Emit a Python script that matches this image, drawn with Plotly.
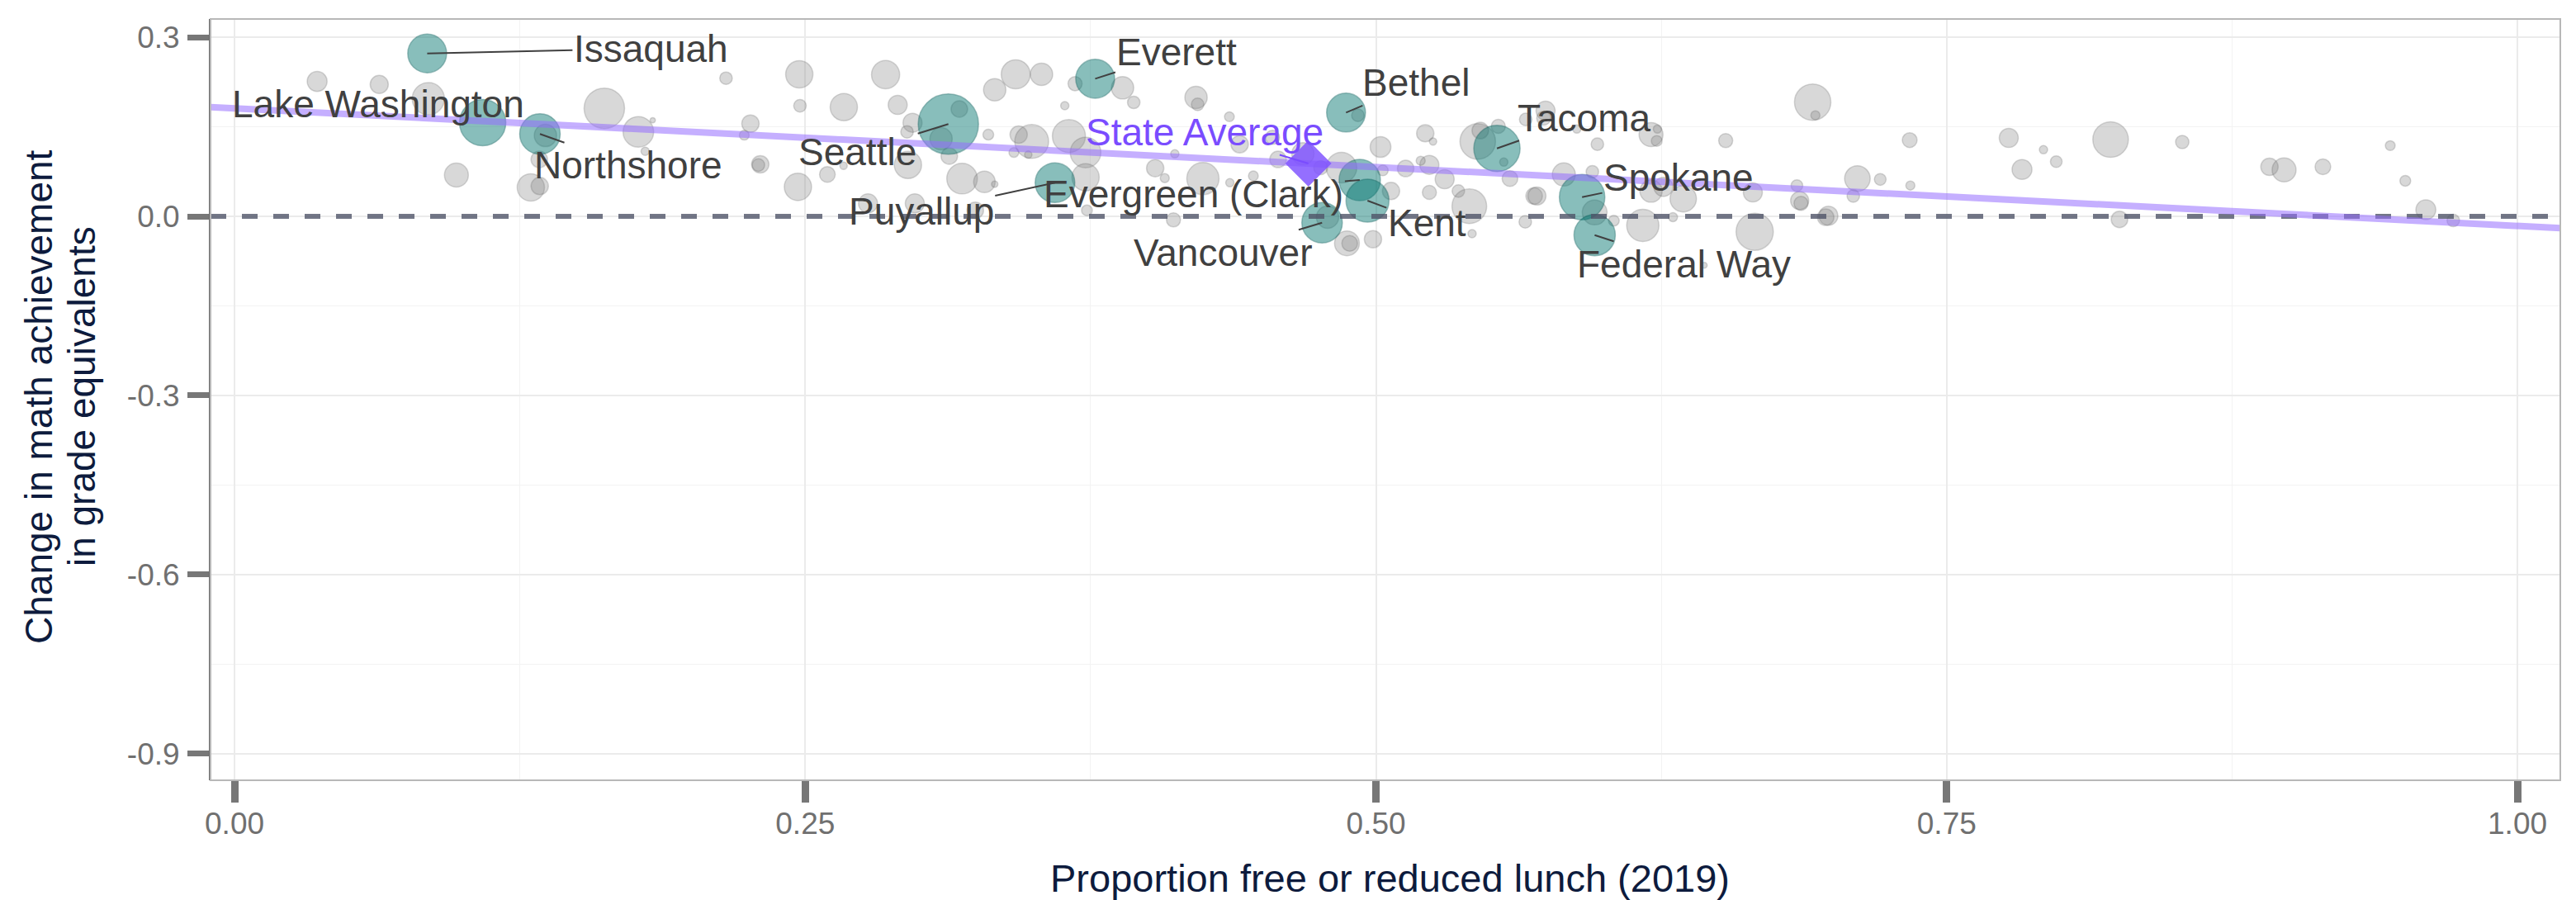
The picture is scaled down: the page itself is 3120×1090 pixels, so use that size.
import plotly.graph_objects as go
import numpy as np

# ---------------- data ----------------
# other districts: proportion FRL (2019), change in math achievement, enrollment (thousands)
gray_frl = [0.0362, 0.0634, 0.0849, 0.1362, 0.162, 0.1335, 0.0972, 0.1298, 0.1337,
            0.1769, 0.1832, 0.1799, 0.2153, 0.226, 0.2233, 0.2303, 0.2295, 0.2474, 0.2477,
            0.2669, 0.2468, 0.2597, 0.2668, 0.2852, 0.2905, 0.297, 0.2946, 0.295, 0.3175,
            0.3095, 0.3131, 0.3187, 0.3285, 0.333, 0.3302, 0.333, 0.3422, 0.3535, 0.3435,
            0.3492, 0.3477, 0.3414, 0.2775, 0.298, 0.3245,
            0.3682, 0.389, 0.3939, 0.3637, 0.3655, 0.3728, 0.3728, 0.3734, 0.4212, 0.4219,
            0.4358, 0.4119, 0.4033, 0.4075, 0.4242, 0.436, 0.4463, 0.4403, 0.4571, 0.4547,
            0.468, 0.4758, 0.4849, 0.4113, 0.4921, 0.4788, 0.4873, 0.4885, 0.4987, 0.502,
            0.503, 0.5066, 0.513, 0.5216, 0.525, 0.5234, 0.5196, 0.5234, 0.5301, 0.5361,
            0.5409, 0.5421, 0.5446, 0.5457,
            0.5536, 0.556, 0.5587, 0.5656, 0.5743, 0.5735, 0.588, 0.597, 0.6205, 0.6233,
            0.623, 0.5823, 0.5948, 0.5693, 0.5705, 0.5958, 0.6042, 0.5654, 0.6169, 0.6205,
            0.6259, 0.6346, 0.6301, 0.6532, 0.6651, 0.6659, 0.6438, 0.6913, 0.6925, 0.6844,
            0.6856, 0.6862, 0.6982, 0.697, 0.7109, 0.7091, 0.7209, 0.7338, 0.7341,
            0.7772, 0.783, 0.7924, 0.798, 0.8218, 0.8257, 0.8532, 0.8914, 0.8978, 0.9148,
            0.9443, 0.9509, 0.9599, 0.9719]
gray_change = [0.226, 0.221, 0.197, 0.1355, 0.181, 0.0954, 0.0692, 0.0484, 0.0507,
               0.1415, 0.161, 0.109, 0.2314, 0.1553, 0.136, 0.0871, 0.086, 0.2379, 0.1853,
               0.183, 0.0493, 0.0701, 0.0848, 0.2374, 0.1867, 0.1568, 0.1415, 0.0862, 0.1798,
               0.13, 0.101, 0.0632, 0.0577, 0.0539, 0.1369, 0.212, 0.2379, 0.2379, 0.1369,
               0.1254, 0.1033, 0.107, 0.0217, 0.0217, 0.0101,
               0.2222, 0.2153, 0.1909, 0.1853, 0.1346, 0.107, 0.0654, 0.0101, 0.1992, 0.1877,
               0.1669, 0.1047, 0.0807, 0.064, 0.0632, 0.0563, 0.0678, 0.1208, 0.0954, 0.1323,
               0.1047, 0.0816, 0.0816, -0.006, 0.1692, -0.0014, -0.0452, -0.0452, -0.0383, 0.1162,
               0.077, 0.0424, 0.0802, 0.1392, 0.1254, 0.0862, 0.0931, 0.0401, 0.0622, 0.0424,
               0.017, -0.029, 0.1254, 0.1438,
               0.1508, 0.0908, 0.0632, 0.1623, 0.177, 0.1646, 0.1462, 0.1208, 0.1369, 0.1462,
               0.1263, 0.0701, 0.0747, 0.0341, 0.0341, 0.0065, -0.0073, -0.0092, -0.0152, 0.0424,
               0.0493, 0.0295, -0.0014, 0.1268, 0.0401, -0.0258, -0.082, 0.1913, 0.1692, 0.0516,
               0.0263, 0.0217, 0.001, -0.0014, 0.0632, 0.0341, 0.0618, 0.1277, 0.0516,
               0.1314, 0.0784, 0.1116, 0.0917, 0.1286, -0.0051, 0.1245, 0.083, 0.0779, 0.083,
               0.1185, 0.0595, 0.0111, -0.0069]
gray_enroll = [5.8, 4.8, 15.2, 7.3, 24.0, 4.0, 8.4, 10.9, 4.4,
               13.7, 0.4, 1.0, 2.3, 4.4, 1.4, 4.4, 2.3, 10.9, 2.3,
               10.9, 10.9, 3.6, 0.8, 11.6, 5.3, 5.3, 2.3, 10.9, 4.0,
               7.3, 4.0, 13.7, 6.8, 0.6, 1.7, 7.3, 12.3, 7.3, 4.4,
               16.8, 0.8, 1.4, 5.3, 5.3, 4.0,
               2.9, 7.3, 2.3, 1.0, 16.0, 13.7, 10.9, 1.7, 7.3, 2.3,
               1.4, 1.0, 4.4, 1.2, 15.2, 1.0, 1.4, 4.4, 4.0, 2.9,
               7.3, 2.9, 13.7, 2.9, 2.3, 7.3, 9.0, 3.6, 4.4, 6.3,
               1.7, 4.4, 4.0, 4.4, 0.8, 5.3, 1.2, 2.9, 5.3, 2.3,
               17.6, 1.0, 18.5, 4.0,
               2.9, 1.0, 3.6, 2.3, 5.3, 2.9, 1.0, 2.3, 8.4, 1.0,
               1.7, 7.8, 2.3, 4.0, 4.8, 9.0, 1.7, 2.3, 15.2, 7.3,
               5.3, 10.2, 1.2, 2.9, 5.3, 20.3, 0.5, 19.4, 1.2, 2.0,
               4.8, 2.9, 5.3, 4.0, 9.6, 2.3, 2.0, 3.2, 1.2,
               5.3, 5.8, 1.0, 2.0, 18.5, 4.0, 2.6, 4.4, 8.4, 3.6,
               1.4, 1.7, 5.8, 2.3]

# highlighted districts
hl_names = ["Issaquah", "Lake Washington", "Northshore", "Seattle", "Puyallup", "Everett",
            "Bethel", "Evergreen (Clark)", "Kent", "Vancouver", "Tacoma", "Spokane", "Federal Way"]
hl_frl = [0.0844, 0.1087, 0.1338, 0.3127, 0.3594, 0.377, 0.4869, 0.4929, 0.4963, 0.4764,
          0.553, 0.5903, 0.5958]
hl_change = [0.273, 0.157, 0.138, 0.1545, 0.0563, 0.2305, 0.1738, 0.0609, 0.0263, -0.0106,
             0.1138, 0.0323, -0.0314]
hl_enroll = [22.1, 31.4, 24.0, 53.3, 23.0, 22.1, 22.1, 25.0, 27.0, 24.0, 31.4, 30.3, 25.0]

state_label = "State Average"
state_frl = 0.4704
state_change = 0.0885

trend_intercept = 0.181
trend_slope = -0.197

x_tick_vals = [0.0, 0.25, 0.5, 0.75, 1.0]
x_tick_text = ["0.00", "0.25", "0.50", "0.75", "1.00"]
y_tick_vals = [0.3, 0.0, -0.3, -0.6, -0.9]
y_tick_text = ["0.3", "0.0", "-0.3", "-0.6", "-0.9"]

x_title = "Proportion free or reduced lunch (2019)"
y_title_lines = ["Change in math achievement", "in grade equivalents"]

# ---------------- layout settings ----------------
X_RANGE = [-0.0105, 1.0188]
Y_RANGE = [-0.9447, 0.3306]
FONT = "Liberation Sans, Arial, sans-serif"
TITLE_COLOR = "#0d1b3d"
SIZEREF = 0.02  # area-mode bubble scale

# label offsets (pixels, text centre relative to point)
label_offsets = {
    "Issaquah": (271, -6), "Lake Washington": (-127, -23), "Northshore": (107, 38),
    "Seattle": (-110, 34), "Puyallup": (-162, 35), "Everett": (99, -32),
    "Bethel": (85, -36), "Evergreen (Clark)": (-201, 17), "Kent": (72, 27),
    "Vancouver": (-120, 36), "Tacoma": (105, -37), "Spokane": (117, -24),
    "Federal Way": (108, 35),
}
state_offset = (-126, -38)

fig = go.Figure()

fig.add_trace(go.Scatter(
    x=gray_frl, y=gray_change, mode="markers",
    marker=dict(size=gray_enroll, sizemode="area", sizeref=SIZEREF,
                color="rgba(128,128,128,0.43)",
                line=dict(color="rgba(90,90,90,0.35)", width=1.5)),
    hoverinfo="skip", showlegend=False))

fig.add_trace(go.Scatter(
    x=hl_frl, y=hl_change, mode="markers", text=hl_names,
    marker=dict(size=hl_enroll, sizemode="area", sizeref=SIZEREF,
                color="rgba(0,115,110,0.66)",
                line=dict(color="rgba(0,90,86,0.55)", width=1.5)),
    showlegend=False))

# zero reference line
fig.add_trace(go.Scatter(
    x=X_RANGE, y=[0, 0], mode="lines",
    line=dict(color="rgba(80,85,105,0.8)", width=6, dash="19px,19px"),
    hoverinfo="skip", showlegend=False))

# regression line
trend_x = np.array(X_RANGE)
trend_y = trend_intercept + trend_slope * trend_x
fig.add_trace(go.Scatter(
    x=trend_x, y=trend_y, mode="lines",
    line=dict(color="rgba(150,110,255,0.55)", width=8),
    hoverinfo="skip", showlegend=False))

# state average diamond
fig.add_trace(go.Scatter(
    x=[state_frl], y=[state_change], mode="markers",
    marker=dict(symbol="diamond", size=43, color="rgba(128,84,255,0.84)",
                line=dict(width=0)),
    showlegend=False))

annotations = []
for name, xv, yv in zip(hl_names, hl_frl, hl_change):
    ax, ay = label_offsets[name]
    annotations.append(dict(
        x=xv, y=yv, xref="x", yref="y", text=name, showarrow=True,
        ax=ax, ay=ay, axref="pixel", ayref="pixel",
        arrowhead=0, arrowwidth=2, arrowcolor="#404040", standoff=0,
        font=dict(family=FONT, size=46, color="#404040")))
annotations.append(dict(
    x=state_frl, y=state_change, xref="x", yref="y", text=state_label, showarrow=True,
    ax=state_offset[0], ay=state_offset[1], axref="pixel", ayref="pixel",
    arrowhead=0, arrowwidth=2, arrowcolor="#7a4cff", standoff=0,
    font=dict(family=FONT, size=46, color="#7a4cff")))

# axis titles
annotations.append(dict(
    x=0.5021, y=-0.129, xref="paper", yref="paper", text=x_title, showarrow=False,
    xanchor="center", yanchor="middle",
    font=dict(family=FONT, size=47, color=TITLE_COLOR)))
for line_text, px in zip(y_title_lines, [-0.0731, -0.0548]):
    annotations.append(dict(
        x=px, y=0.5043, xref="paper", yref="paper", text=line_text, showarrow=False,
        textangle=-90, xanchor="center", yanchor="middle",
        font=dict(family=FONT, size=46, color=TITLE_COLOR)))

shapes = [dict(type="rect", xref="paper", yref="paper", x0=0, x1=1, y0=0, y1=1,
               line=dict(color="#b8b8b8", width=2), fillcolor="rgba(0,0,0,0)", layer="above")]

fig.update_layout(
    width=3120, height=1090,
    margin=dict(l=247, r=27, t=15, b=153, autoexpand=False),
    paper_bgcolor="white", plot_bgcolor="white",
    font=dict(family=FONT),
    annotations=annotations, shapes=shapes,
    xaxis=dict(
        range=X_RANGE, tickmode="array", tickvals=x_tick_vals, ticktext=x_tick_text,
        automargin=False,
        showgrid=True, gridcolor="#ebebeb", gridwidth=2, zeroline=False,
        ticks="outside", ticklen=26, tickwidth=9, tickcolor="#777777",
        ticklabelstandoff=-6,
        tickfont=dict(family=FONT, size=37, color="#707070"),
        minor=dict(tickvals=[0.125, 0.375, 0.625, 0.875], showgrid=True,
                   gridcolor="#f3f3f3", gridwidth=1, ticks=""),
        showline=False),
    yaxis=dict(
        range=Y_RANGE, tickmode="array", tickvals=y_tick_vals, ticktext=y_tick_text,
        automargin=False,
        showgrid=True, gridcolor="#ebebeb", gridwidth=2, zeroline=False,
        ticks="outside", ticklen=26, tickwidth=7, tickcolor="#777777",
        ticklabelstandoff=2,
        tickfont=dict(family=FONT, size=37, color="#707070"),
        minor=dict(tickvals=[0.15, -0.15, -0.45, -0.75], showgrid=True,
                   gridcolor="#f3f3f3", gridwidth=1, ticks=""),
        showline=True, linecolor="#666666", linewidth=2),
)

fig.write_html("out.html")
